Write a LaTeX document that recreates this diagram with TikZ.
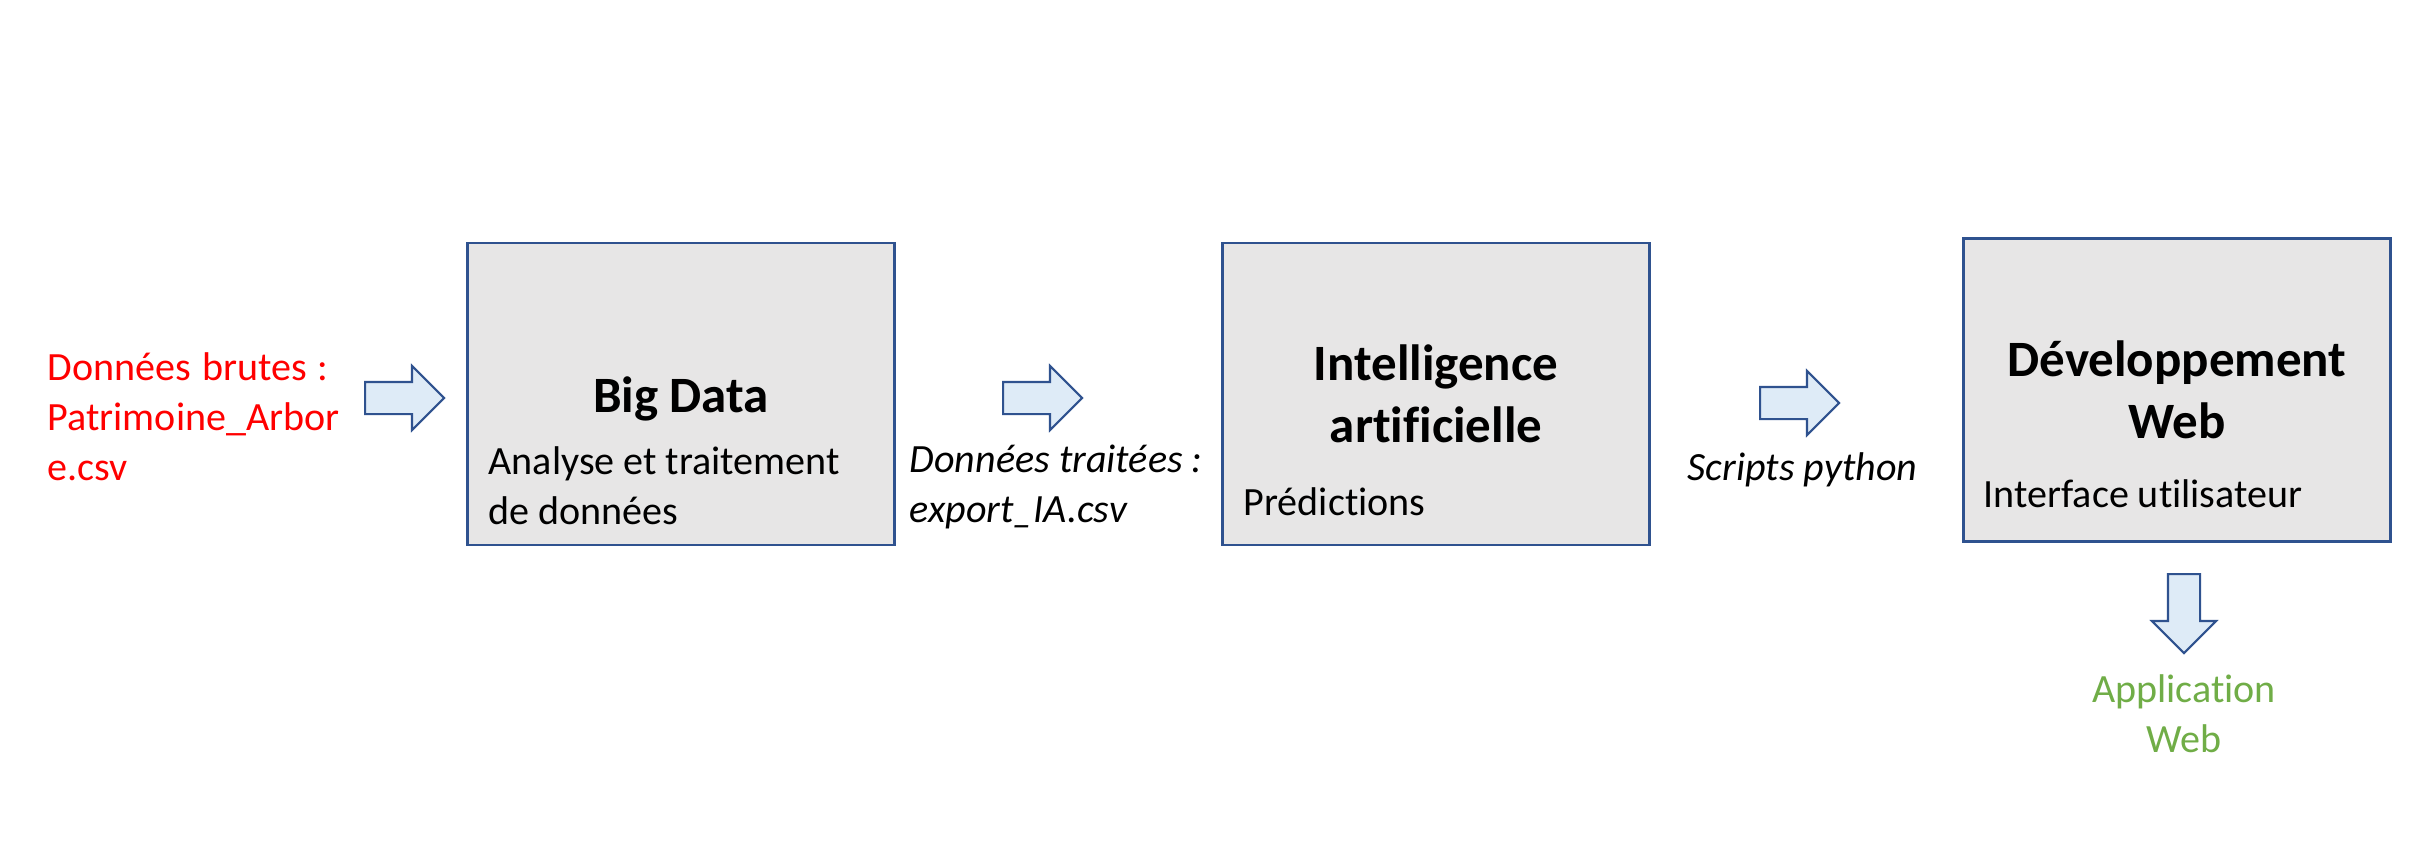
\documentclass[tikz,border=0pt]{standalone}
\usepackage{fontspec}
\setmainfont{Carlito}[Ligatures=NoCommon]
\usetikzlibrary{shapes.arrows, positioning}
\definecolor{boxgray}{HTML}{E7E6E6}
\definecolor{boxblue}{HTML}{2F528F}
\definecolor{arrowfill}{HTML}{DEEBF7}
\definecolor{appgreen}{HTML}{70AD47}
\tikzstyle{bloc} = [rectangle, minimum width=42.7mm, minimum height=30.2mm, draw=boxblue, fill=boxgray, line width=0.6pt]
\tikzstyle{fleche} = [single arrow, draw=boxblue, fill=arrowfill, line width=0.6pt, minimum height=7.9mm, single arrow head extend=1.6mm, inner xsep=0pt, inner ysep=1.5mm, anchor=tail]
\tikzstyle{titre} = [font=\fontsize{14.5}{17.5}\selectfont\bfseries, align=center, inner sep=0pt]
\tikzstyle{texte} = [font=\fontsize{11.4}{14.2}\selectfont, align=left, inner sep=0pt]
\tikzstyle{legende} = [texte, font=\fontsize{11.4}{14.2}\selectfont\itshape]

\begin{document}
\begin{tikzpicture}[x=0.1mm, y=-0.1mm]
\useasboundingbox (0,0) rectangle (2414,859);

\node (bigdata) [bloc] at (681,394) {};
\node (ia) [bloc] at (1436,394) {};
\node (web) [bloc, minimum height=30.3mm] at (2177,390) {};

%% textes des blocs (base = derniere ligne)
\node (tbigdata) [titre, anchor=base] at (681,412) {Big Data};
\node (sbigdata) [texte, anchor=base west] at (488,524) {Analyse et traitement\\de données};
\node (tia) [titre, anchor=base] at (1436,442) {Intelligence\\artificielle};
\node (sia) [texte, anchor=base west] at (1243,515) {Prédictions};
\node (tweb) [titre, anchor=base] at (2177,438) {Développement\\Web};
\node (sweb) [texte, anchor=base west] at (1983,507) {Interface utilisateur};

%% entrees / sorties
\node (brutes) [texte, text=red, anchor=base west] at (47,480) {\makebox[28.1mm][s]{Données brutes :}\\Patrimoine\_Arbor\\e.csv};
\node (traitees) [legende, anchor=base west] at (909,522) {Données traitées :\\export\_IA.csv};
\node (scripts) [legende, anchor=base west] at (1687,480) {Scripts python};
\node (appli) [texte, text=appgreen, align=center, anchor=base] at (2184,752) {Application\\Web};

%% fleches (placees par la queue)
\node (f1) [fleche] at (364,398) {};
\node (f2) [fleche] at (1002,398) {};
\node (f3) [fleche] at (1759,403) {};
\node (f4) [fleche, rotate=-90] at (2184,573) {};

\end{tikzpicture}
\end{document}
